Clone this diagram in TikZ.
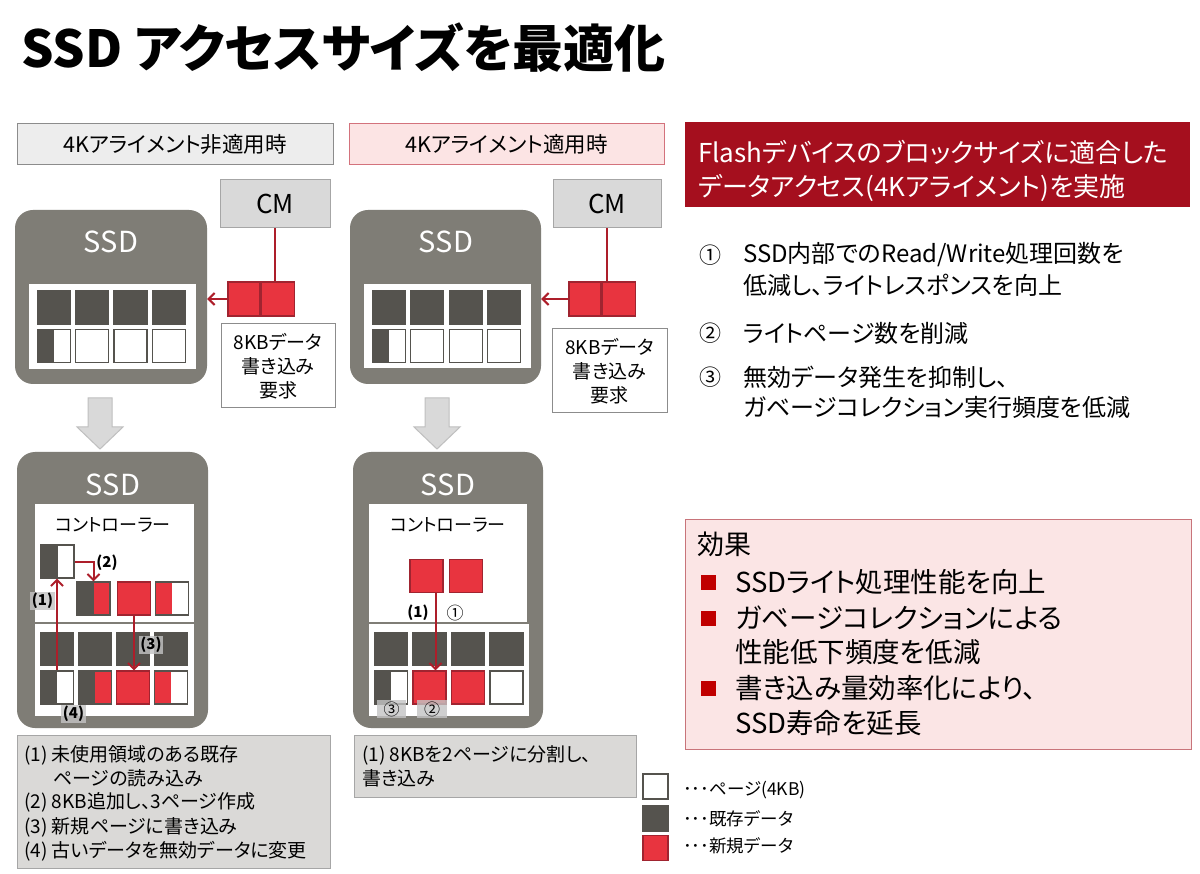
\documentclass[tikz,border=0pt]{standalone}
\usepackage{fontspec}
\setmainfont[RawFeature=+palt]{Noto Sans CJK JP}
\usetikzlibrary{positioning, arrows.meta}

\definecolor{ssdgray}{HTML}{7F7D76}
\definecolor{olddark}{HTML}{55534E}
\definecolor{newred}{HTML}{E8343F}
\definecolor{redbd}{HTML}{A02430}
\definecolor{redline}{HTML}{AD1E2A}
\definecolor{deepred}{HTML}{A50F1E}
\definecolor{bullred}{HTML}{C00000}
\definecolor{lightgray}{HTML}{D9D9D9}
\definecolor{cmbd}{HTML}{A6A6A6}
\definecolor{hdrgray}{HTML}{EDEDED}
\definecolor{hdrbd}{HTML}{8C8C8C}
\definecolor{pinkbg}{HTML}{FCE4E4}
\definecolor{pinkbd}{HTML}{D3727C}
\definecolor{effbg}{HTML}{FBE5E5}
\definecolor{effbd}{HTML}{C8747A}
\definecolor{notegray}{HTML}{DAD9D7}
\definecolor{taggray}{HTML}{C4C4C4}
\definecolor{dnbd}{HTML}{BFBFBF}

\newcommand{\fsz}[2]{\fontsize{#1}{#2}\selectfont}

\begin{document}
\begin{tikzpicture}[x=1pt, y=-1pt, >={Straight Barb[length=6pt, width=12pt]}, font=\fsz{20}{24}]
  \tikzstyle{ssd} = [fill=ssdgray, rounded corners=18pt, inner sep=0]
  \tikzstyle{ssdname} = [text=white, font=\fsz{29}{34}]
  \tikzstyle{mem} = [draw=ssdgray, fill=white, line width=1.5pt, inner sep=0]
  \tikzstyle{pg} = [draw=olddark, line width=1.2pt, fill=white, minimum width=33pt, minimum height=33pt, inner sep=0]
  \tikzstyle{oldpg} = [pg, fill=olddark]
  \tikzstyle{newpg} = [pg, draw=redbd, fill=newred]
  \tikzstyle{oldhalf} = [pg, path picture={\fill[olddark] (path picture bounding box.south west) rectangle (path picture bounding box.north);}]
  \tikzstyle{newhalf} = [pg, path picture={\fill[newred] (path picture bounding box.south west) rectangle (path picture bounding box.north);}]
  \tikzstyle{cmbox} = [draw=cmbd, fill=lightgray, line width=1pt, minimum width=110pt, minimum height=48pt, font=\fsz{26}{30}]
  \tikzstyle{reqbox} = [draw=hdrbd, fill=white, line width=1pt, minimum width=114pt, minimum height=84pt, align=center, font=\fsz{19}{24}]
  \tikzstyle{redln} = [draw=redline, line width=2pt]
  \tikzstyle{tagbox} = [fill=taggray, fill opacity=0.8, text opacity=1, inner sep=1.5pt, font=\bfseries\fsz{15}{17}]
  \tikzstyle{notebox} = [draw=cmbd, fill=notegray, line width=1pt]
  \tikzstyle{dnarr} = [draw=dnbd, fill=lightgray, line width=1pt]
  \tikzstyle{txt} = [anchor=west, inner sep=0]

  \fill[white] (0,0) rectangle (1200,874);
  \useasboundingbox (0,0) rectangle (1200,874);

  % title and headers
  \node[txt, font=\bfseries\fsz{51}{57}] (title) at (21,48) {SSD アクセスサイズを最適化};
  \node[draw=hdrbd, fill=hdrgray, line width=1pt, minimum width=316pt, minimum height=41pt, font=\fsz{21.5}{26}] (hdrA) at (175,144.5) {4Kアライメント非適用時};
  \node[draw=pinkbd, fill=pinkbg, line width=1pt, minimum width=315pt, minimum height=41pt, font=\fsz{21.5}{26}] (hdrB) at (506.5,144.5) {4Kアライメント適用時};

  % before: SSD with write request
  \node[ssd, minimum width=192pt, minimum height=174pt] (ssdA) at (111,297) {};
  \node[ssdname] (ssdAname) at (111,242) {SSD};
  \node[mem, minimum width=169pt, minimum height=87pt] (memA) at (112.5,326.5) {};
  \foreach \i in {1,...,4}
    \node[oldpg] (pA\i) at (15.5+38.3*\i,307.5) {};
  \node[oldhalf] (qA1) at (53.8,346) {};
  \foreach \i in {2,3,4}
    \node[pg] (qA\i) at (15.5+38.3*\i,346) {};
  \node[cmbox] (cmA) at (275,204) {CM};
  \node[newpg, minimum width=32pt, minimum height=34pt] (wA1) at (244,299) {};
  \node[newpg, minimum width=33pt, minimum height=34pt, right=0pt of wA1] (wA2) {};
  \node[reqbox] (reqA) at (278,366) {8KBデータ\\書き込み\\要求};
  \draw[redln] (cmA.south) -- (cmA.south |- wA2.north);
  \draw[redln, ->] (wA1.west) -- (wA1.west -| ssdA.east);

  % after: SSD with write request
  \node[ssd, minimum width=191pt, minimum height=174pt] (ssdB) at (445.5,297) {};
  \node[ssdname] (ssdBname) at (446,242) {SSD};
  \node[mem, minimum width=169pt, minimum height=86pt] (memB) at (447.5,326) {};
  \foreach \i in {1,...,4}
    \node[oldpg] (pB\i) at (350.7+38.3*\i,307.5) {};
  \node[oldhalf] (qB1) at (389,346) {};
  \foreach \i in {2,3,4}
    \node[pg] (qB\i) at (350.7+38.3*\i,346) {};
  \node[cmbox, minimum width=108pt] (cmB) at (607,204) {CM};
  \node[newpg, minimum width=32pt, minimum height=34pt] (wB1) at (585,299) {};
  \node[newpg, minimum width=33pt, minimum height=34pt, right=0pt of wB1] (wB2) {};
  \node[reqbox, minimum width=115pt] (reqB) at (609.5,371) {8KBデータ\\書き込み\\要求};
  \draw[redln] (cmB.south) -- (cmB.south |- wB2.north);
  \draw[redln, ->] (wB1.west) -- (wB1.west -| ssdB.east);

  % gray down arrows
  \foreach \c in {100,437}
    \filldraw[dnarr] (\c-12,398) -- (\c+12,398) -- (\c+12,427) -- (\c+23,427)
      -- (\c,449) -- (\c-23,427) -- (\c-12,427) -- cycle;

  % before: inside the SSD
  \node[ssd, minimum width=191pt, minimum height=276pt] (ssdC) at (112.5,590) {};
  \node[ssdname] (ssdCname) at (113,485) {SSD};
  \node[mem, minimum width=161pt, minimum height=120pt] (ctrlC) at (114.5,563) {};
  \node[mem, minimum width=161pt, minimum height=94pt] (flashC) at (114.5,670) {};
  \node[font=\fsz{18}{22}] (ctrlCname) at (113,525) {コントローラー};
  \node[oldhalf] (rdC) at (57.5,561.5) {};
  \node[oldhalf, fill=newred] (cC1) at (93.5,598.5) {};
  \node[newpg] (cC2) at (134,598.5) {};
  \node[newhalf] (cC3) at (172,598.5) {};
  \foreach \i in {1,...,4}
    \node[oldpg] (eC\i) at (19+38*\i,649) {};
  \node[oldhalf] (fC1) at (57,687.5) {};
  \node[oldhalf, fill=newred] (fC2) at (95,687.5) {};
  \node[newpg] (fC3) at (133,687.5) {};
  \node[newhalf] (fC4) at (171,687.5) {};
  \draw[redln, ->] (fC1.north) -- (fC1.north |- rdC.south);
  \draw[redln, ->] (rdC.east) -| (cC1.north);
  \draw[redln, ->] (cC2.south) -- (cC2.south |- fC3.north);
  \node[tagbox] (tagC1) at (42.5,601) {(1)};
  \node[font=\bfseries\fsz{15}{17}] (tagC2) at (107,563) {(2)};
  \node[tagbox] (tagC3) at (151,645) {(3)};
  \node[tagbox] (tagC4) at (73.5,714) {(4)};

  % after: inside the SSD
  \node[ssd, minimum width=190pt, minimum height=276pt] (ssdD) at (448,590) {};
  \node[ssdname] (ssdDname) at (448,485) {SSD};
  \node[mem, minimum width=160pt, minimum height=120pt] (ctrlD) at (448,563) {};
  \node[mem, minimum width=162pt, minimum height=94pt] (flashD) at (449,670) {};
  \node[font=\fsz{18}{22}] (ctrlDname) at (448,525) {コントローラー};
  \node[newpg] (nD1) at (426.5,576) {};
  \node[newpg] (nD2) at (466,576) {};
  \foreach \i in {1,...,4}
    \node[oldpg] (eD\i) at (352.5+38.5*\i,649) {};
  \node[oldhalf] (gD1) at (391,687.5) {};
  \node[newpg] (gD2) at (429.5,687.5) {};
  \node[newpg] (gD3) at (468,687.5) {};
  \node[pg] (gD4) at (506.5,687.5) {};
  \draw[redln, ->] ([xshift=9pt]nD1.south) -- ([xshift=9pt]nD1.south |- gD2.north);
  \node[font=\bfseries\fsz{15}{17}] (tagD1) at (418,613) {(1)};
  \node[font=\fsz{17}{20}] (numD1) at (455,613) {①};
  \node[tagbox, font=\fsz{16}{18}, minimum width=29pt] (numD3) at (391.5,709) {③};
  \node[tagbox, font=\fsz{16}{18}, minimum width=30pt] (numD2) at (432,709) {②};

  % notes under the SSDs
  \node[notebox, minimum width=313pt, minimum height=133pt] (noteC) at (173.5,801.5) {};
  \foreach \t/\x/\y [count=\k] in {{(1) 未使用領域のある既存}/24/755, {ページの読み込み}/53/778,
      {(2) 8KB追加し、3ページ作成}/24/802, {(3) 新規ページに書き込み}/24/827,
      {(4) 古いデータを無効データに変更}/24/851}
    \node[txt, font=\fsz{19}{22}] (noteCl\k) at (\x,\y) {\t};
  \node[notebox, minimum width=282pt, minimum height=62pt] (noteD) at (495,766) {};
  \node[txt, font=\fsz{19}{22}] (noteDl1) at (362,755) {(1) 8KBを2ページに分割し、};
  \node[txt, font=\fsz{19}{22}] (noteDl2) at (362,778) {書き込み};

  % legend
  \node[pg, minimum width=25pt, minimum height=25pt] (lgPage) at (655.5,786.5) {};
  \node[oldpg, minimum width=25pt, minimum height=25pt] (lgOld) at (655.5,818.5) {};
  \node[newpg, minimum width=25pt, minimum height=25pt] (lgNew) at (655.5,848) {};
  \node[txt, font=\fsz{17.5}{20}] (lgPageTxt) at (683,790) {･･･ページ(4KB)};
  \node[txt, font=\fsz{17.5}{20}] (lgOldTxt) at (683,819) {･･･既存データ};
  \node[txt, font=\fsz{17.5}{20}] (lgNewTxt) at (683,846) {･･･新規データ};

  % right side: aim and points
  \node[fill=deepred, minimum width=505pt, minimum height=85pt] (aim) at (937.5,164.5) {};
  \node[txt, text=white, font=\fsz{26}{30}] (aimL1) at (698,152) {Flashデバイスのブロックサイズに適合した};
  \node[txt, text=white, font=\fsz{26}{30}] (aimL2) at (698,188) {データアクセス(4Kアライメント)を実施};
  \foreach \n/\y in {①/255, ②/333, ③/377}
    \node[font=\fsz{22}{26}] (num\y) at (710,\y) {\n};
  \foreach \t/\y [count=\k] in {{SSD内部でのRead/Write処理回数を}/255, {低減し、ライトレスポンスを向上}/285,
      {ライトページ数を削減}/333, {無効データ発生を抑制し、}/377, {ガベージコレクション実行頻度を低減}/407}
    \node[txt, font=\fsz{24}{28}] (point\k) at (743,\y) {\t};

  % effects
  \node[draw=effbd, fill=effbg, line width=1pt, minimum width=506pt, minimum height=230pt] (eff) at (938,634) {};
  \node[txt, font=\fsz{27}{32}] (effHead) at (697,544) {効果};
  \foreach \y in {582,618,688}
    \node[fill=bullred, minimum size=15pt, inner sep=0] (bul\y) at (708,\y) {};
  \foreach \t/\y [count=\k] in {{SSDライト処理性能を向上}/582, {ガベージコレクションによる}/618,
      {性能低下頻度を低減}/652, {書き込み量効率化により、}/688, {SSD寿命を延長}/723}
    \node[txt, font=\fsz{27.5}{32}] (effL\k) at (735,\y) {\t};
\end{tikzpicture}
\end{document}
